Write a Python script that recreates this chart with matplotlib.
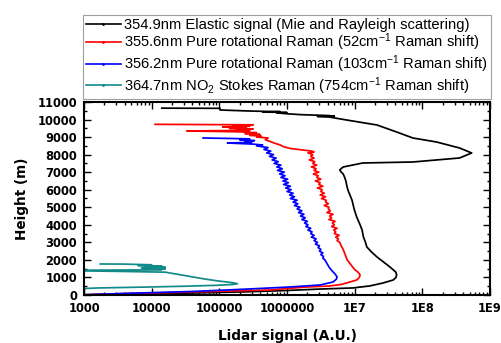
import numpy as np
import matplotlib
matplotlib.use("Agg")
import matplotlib.pyplot as plt
from matplotlib.lines import Line2D
from matplotlib.ticker import LogLocator, MultipleLocator, NullFormatter

# values: heights in m, signal as log10(A.U.)
elastic_h = [0, 60, 120, 180, 240, 290, 340, 400, 513, 684, 855, 1000, 1140, 1300, 1600,
             1900, 2166, 2450, 2736, 3000, 3300, 3705, 4000, 4446, 4800, 5100, 5415, 5700,
             5985, 6300, 6500, 6726, 6900, 7011, 7125, 7200, 7296, 7524, 7581, 7809, 8094,
             8379, 8721, 8949, 9291, 9690, 9975, 10146, 10180, 10200, 10230, 10280, 10330,
             10380, 10400, 10430, 10450, 10480, 10545, 10640, 10650]
elastic_log = [2.9, 3.8, 4.7, 5.4, 5.9, 6.2, 6.5, 6.97, 7.22, 7.42, 7.57, 7.61, 7.62, 7.61, 7.52,
               7.42, 7.33, 7.25, 7.18, 7.16, 7.13, 7.11, 7.08, 7.03, 7.00, 6.98, 6.96, 6.93,
               6.90, 6.88, 6.87, 6.85, 6.83, 6.80, 6.78, 6.80, 6.83, 7.12, 7.86, 8.55, 8.73,
               8.55, 8.21, 7.86, 7.62, 7.33, 6.88, 6.62, 6.45, 6.70, 6.60, 6.20, 6.00,
               5.85, 6.00, 5.64, 5.90, 5.50, 5.01, 5.01, 4.15]

rot52_h = [0, 80, 150, 220, 285, 400, 456, 513, 600, 684, 855, 1000, 1150, 1300, 1450, 1600,
           1800, 2000, 2200, 2400, 2600, 2800,
           3000, 3100, 3200, 3300, 3400, 3500, 3600, 3700, 3800, 3900, 4000, 4100, 4200, 4300,
           4400, 4500, 4600, 4700, 4800, 4900, 5000, 5100, 5200, 5300, 5400, 5500, 5600, 5700,
           5800, 5900, 6000, 6100, 6200, 6300, 6400, 6500, 6600, 6700, 6800, 6900, 7000, 7100,
           7200, 7300, 7400, 7500, 7600, 7700, 7800, 7900, 8000, 8100, 8150, 8200,
           8280, 8350, 8450, 8550, 8650, 8750, 8850, 8950,
           9000, 9050, 9100, 9150, 9200, 9250, 9300, 9350, 9380, 9420, 9460, 9500, 9540, 9580,
           9620, 9660, 9700, 9727]
rot52_log = [2.9, 3.6, 4.4, 5.1, 5.75, 6.1, 6.3, 6.63, 6.8, 6.88, 7.03, 7.07, 7.08, 7.05, 7.0, 6.97,
             6.93, 6.89, 6.87, 6.85, 6.83, 6.80,
             6.78, 6.74, 6.76, 6.72, 6.77, 6.70, 6.72, 6.69, 6.74, 6.66, 6.70, 6.67, 6.71, 6.62,
             6.66, 6.63, 6.68, 6.59, 6.64, 6.61, 6.62, 6.55, 6.61, 6.57, 6.58, 6.51, 6.57, 6.49,
             6.55, 6.50, 6.52, 6.45, 6.53, 6.47, 6.49, 6.42, 6.50, 6.44, 6.46, 6.39, 6.47, 6.40,
             6.43, 6.36, 6.44, 6.38, 6.41, 6.33, 6.40, 6.35, 6.38, 6.31, 6.40, 6.37,
             6.20, 6.05, 5.95, 5.90, 5.82, 5.75, 5.68, 5.72,
             5.55, 5.62, 5.45, 5.60, 5.38, 5.55, 5.30, 4.52, 5.45, 5.25, 5.50, 5.15, 5.40, 5.05,
             5.45, 5.20, 5.50, 4.05]

rot103_h = [0, 100, 200, 300, 400, 456, 570, 741, 900, 1026, 1200, 1400, 1600, 1800,
            2000, 2100, 2200, 2300, 2400, 2500, 2600, 2700, 2800, 2900, 3000, 3100, 3200, 3300,
            3400, 3500, 3600, 3700, 3800, 3900, 4000, 4100, 4200, 4300, 4400, 4500, 4600, 4700,
            4800, 4900, 5000, 5100, 5200, 5300, 5400, 5500, 5600, 5700, 5800, 5900, 6000, 6100,
            6200, 6300, 6400, 6500, 6600, 6700, 6800, 6900, 7000, 7100, 7200, 7300, 7400, 7500,
            7600, 7700, 7800, 7900, 8000, 8100, 8200, 8300, 8400, 8500, 8550, 8600, 8664, 8700,
            8750, 8800, 8850, 8900, 8949]
rot103_log = [2.9, 3.7, 4.6, 5.2, 5.75, 6.04, 6.49, 6.68, 6.73, 6.74, 6.71, 6.66, 6.62, 6.59,
              6.56, 6.53, 6.54, 6.50, 6.53, 6.48, 6.50, 6.46, 6.48, 6.42, 6.45, 6.40, 6.43, 6.36,
              6.40, 6.35, 6.37, 6.31, 6.35, 6.28, 6.31, 6.26, 6.30, 6.22, 6.27, 6.20, 6.25, 6.17,
              6.22, 6.15, 6.19, 6.11, 6.16, 6.09, 6.15, 6.05, 6.11, 6.04, 6.09, 6.00, 6.06, 5.98,
              6.05, 5.95, 6.02, 5.94, 6.01, 5.91, 5.97, 5.89, 5.96, 5.86, 5.93, 5.85, 5.91, 5.81,
              5.87, 5.78, 5.84, 5.74, 5.80, 5.70, 5.76, 5.66, 5.72, 5.55, 5.64, 5.50, 5.12, 5.48,
              5.38, 5.52, 5.30, 5.45, 4.76]

no2_h = [350, 400, 450, 500, 550, 600, 640, 700, 800, 900, 1000, 1100, 1200, 1300, 1340, 1380,
         1410, 1430, 1450, 1470, 1490, 1510, 1530, 1550, 1580, 1610, 1640, 1680, 1720, 1760, 1767]
no2_log = [2.9, 3.2, 3.9, 4.5, 4.95, 5.2, 5.27, 5.2, 4.98, 4.8, 4.65, 4.5, 4.35, 4.2, 3.6, 2.9,
           2.9, 3.9, 4.15, 3.9, 4.2, 4.0, 4.18, 3.85, 4.2, 3.9, 4.15, 3.8, 4.0, 3.6, 3.24]

labels = ['354.9nm Elastic signal (Mie and Rayleigh scattering)',
          '355.6nm Pure rotational Raman (52cm$^{-1}$ Raman shift)',
          '356.2nm Pure rotational Raman (103cm$^{-1}$ Raman shift)',
          '364.7nm NO$_2$ Stokes Raman (754cm$^{-1}$ Raman shift)']
colors = ['black', '#ff0000', '#0000ff', '#138a8a']

xticks = [1e3, 1e4, 1e5, 1e6, 1e7, 1e8, 1e9]
xticklabels = ['1000', '10000', '100000', '1000000', '1E7', '1E8', '1E9']

plt.rcParams['mathtext.default'] = 'regular'

fig = plt.figure(figsize=(5.01, 3.43), dpi=100)
ax = fig.add_axes([0.1677, 0.14, 0.8103, 0.5626])

series = [(elastic_h, elastic_log), (rot52_h, rot52_log), (rot103_h, rot103_log), (no2_h, no2_log)]
for (h, lg), c in zip(series, colors):
    ax.plot(10 ** np.array(lg), h, color=c, lw=1.25)

ax.set_xscale('log')
ax.set_xlim(1e3, 1e9)
ax.set_ylim(0, 11000)
ax.set_xticks(xticks)
ax.set_xticklabels(xticklabels)
ax.xaxis.set_minor_locator(LogLocator(base=10, subs=np.arange(2, 10)))
ax.xaxis.set_minor_formatter(NullFormatter())
ax.yaxis.set_major_locator(MultipleLocator(1000))
ax.yaxis.set_minor_locator(MultipleLocator(500))

ax.tick_params(which='both', direction='in', top=True, right=True, width=1)
ax.tick_params(which='major', length=5, pad=5)
ax.tick_params(which='minor', length=2.5)
for lab in ax.get_xticklabels() + ax.get_yticklabels():
    lab.set_fontweight('bold')
    lab.set_fontsize(8.3)
for s in ax.spines.values():
    s.set_linewidth(1.5)

ax.set_xlabel('Lidar signal (A.U.)', fontweight='bold', fontsize=9.8, labelpad=10)
ax.set_ylabel('Height (m)', fontweight='bold', fontsize=9.8, labelpad=6)

handles = [Line2D([], [], color=c, lw=1.2, marker='.', markersize=2) for c in colors]
leg = ax.legend(handles, labels, loc='lower left', bbox_to_anchor=(-0.003, 1.013, 1.006, 0.2),
                mode='expand', borderaxespad=0, fancybox=False, framealpha=1,
                edgecolor='#a0a0a0', handlelength=2.4, handletextpad=0.2, labelspacing=0.0,
                borderpad=0.2, prop={'family': 'Liberation Sans', 'size': 10.6})
leg.get_frame().set_linewidth(0.8)

fig.savefig('out.png', dpi=100)
